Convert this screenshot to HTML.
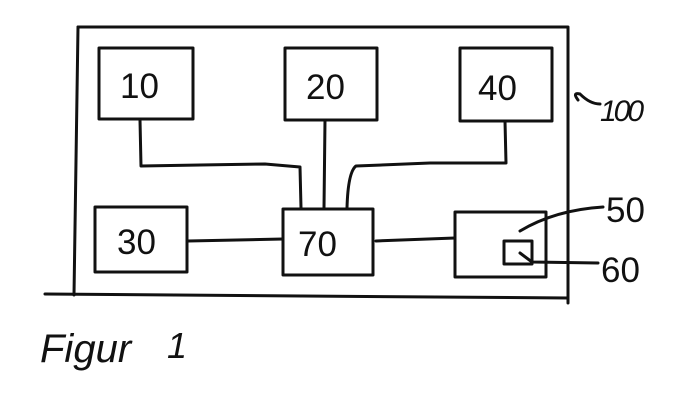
<!DOCTYPE html>
<html><head><style>
html,body{margin:0;padding:0;background:#fff;}
svg{display:block;}
text{font-family:"Liberation Sans",sans-serif;fill:#111;}
</style></head><body>
<svg width="689" height="411" viewBox="0 0 689 411" xmlns="http://www.w3.org/2000/svg">
<g fill="none" stroke="#111" stroke-width="3" stroke-linecap="round" stroke-linejoin="round">
<path d="M78 27 L568 27 L568 303"/>
<path d="M78 27 L74 295"/>
<path d="M45 294 L568 298"/>
<rect x="99" y="48" width="94" height="71"/>
<rect x="285" y="48" width="92" height="72"/>
<rect x="460" y="48" width="92" height="73"/>
<rect x="95" y="207" width="92" height="65"/>
<rect x="283" y="209" width="90" height="66"/>
<rect x="455" y="212" width="91" height="65"/>
<rect x="504" y="241" width="28" height="23"/>
<path d="M140 120 L141 166 L200 165 L265 164 L300 167 L301 208"/>
<path d="M325 120 L324 208"/>
<path d="M505 121 L506 163 L430 163 L356 166 Q348 172 347 208"/>
<path d="M188 241 L283 239"/>
<path d="M376 241 L455 238"/>
<path d="M520 231 Q555 210 603 207"/>
<path d="M520 253 L532 262 L598 263"/>
<path d="M578 100 Q572 92 580 94 Q590 104 600 104"/>
</g>
<g font-size="35">
<text x="120" y="98">10</text>
<text x="306" y="99">20</text>
<text x="478" y="100">40</text>
<text x="117" y="254">30</text>
<text x="298" y="256">70</text>
<text x="606" y="222">50</text>
<text x="601" y="282">60</text>
</g>
<text x="600" y="121" font-size="30" font-style="italic" letter-spacing="-3">100</text>
<text x="40" y="362" font-size="40" font-style="italic">Figur</text>
<text x="167" y="358" font-size="36" font-style="italic">1</text>
</svg>
</body></html>
